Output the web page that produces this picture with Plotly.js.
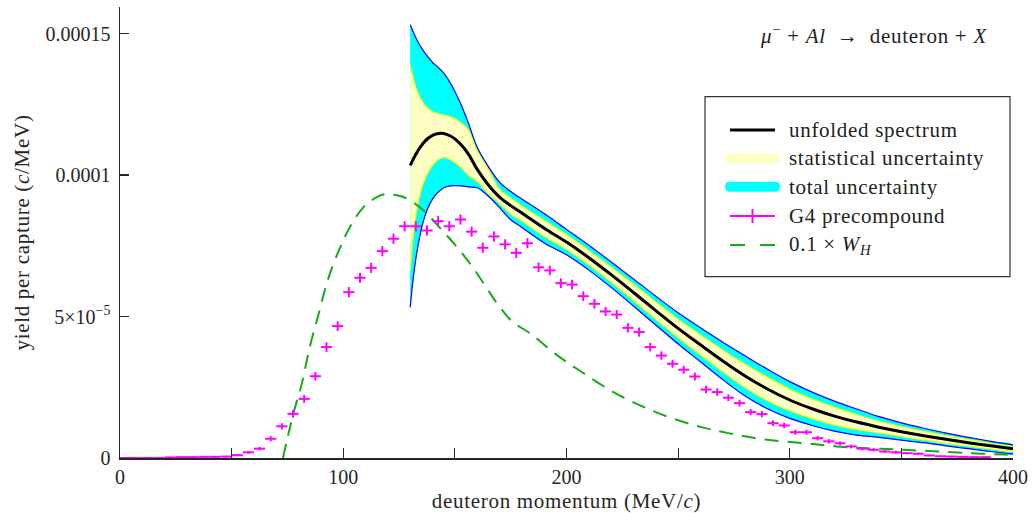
<!DOCTYPE html>
<html>
<head>
<meta charset="utf-8">
<script src="https://cdn.plot.ly/plotly-3.0.1.min.js"></script>
<style>
  html, body { margin: 0; padding: 0; background: #fff; }
  #chart { width: 1032px; height: 513px; }
  /* slightly looser tracking for the running text */
  #chart .annotation-text, #chart .xtitle, #chart .ytitle { letter-spacing: 0.7px; }
</style>
</head>
<body>
<div id="chart"></div>
<script>
// Yields are listed in units of 1e-4 per (MeV/c); momenta in MeV/c.
const YIELD_UNIT = 1e-4;

// Unfolded deuteron spectrum with its statistical and total uncertainty bands
const momentum = [130, 131, 132, 133, 134, 135, 136, 138, 140, 142, 145, 148, 150, 153, 156, 160, 165, 170, 175, 180,
                  190, 200, 210, 220, 230, 240, 250, 260, 270, 280, 290, 300, 310, 320, 330, 340, 350, 360, 370, 380, 390, 400];
const unfolded = [1.034, 1.050, 1.066, 1.080, 1.093, 1.104, 1.114, 1.130, 1.140, 1.146, 1.147, 1.138, 1.128, 1.105, 1.075, 1.020, 0.965, 0.922, 0.892, 0.866,
                  0.812, 0.763, 0.708, 0.648, 0.585, 0.521, 0.458, 0.400, 0.343, 0.290, 0.244, 0.205, 0.174, 0.148, 0.127, 0.109, 0.093, 0.079, 0.066, 0.054, 0.043, 0.033];
const statHigh = [1.387, 1.352, 1.322, 1.298, 1.280, 1.265, 1.252, 1.235, 1.224, 1.218, 1.212, 1.205, 1.199, 1.182, 1.160, 1.085, 1.020, 0.950, 0.918, 0.890,
                  0.840, 0.789, 0.733, 0.674, 0.613, 0.551, 0.490, 0.435, 0.381, 0.331, 0.285, 0.243, 0.208, 0.179, 0.153, 0.130, 0.111, 0.094, 0.079, 0.065, 0.051, 0.039];
const statLow  = [0.668, 0.760, 0.830, 0.880, 0.920, 0.950, 0.975, 1.010, 1.035, 1.052, 1.062, 1.055, 1.045, 1.025, 1.000, 0.978, 0.935, 0.900, 0.862, 0.838,
                  0.784, 0.737, 0.683, 0.622, 0.557, 0.491, 0.426, 0.365, 0.305, 0.249, 0.203, 0.167, 0.140, 0.117, 0.101, 0.089, 0.076, 0.064, 0.052, 0.042, 0.032, 0.023];
const totalHigh = [1.531, 1.512, 1.494, 1.478, 1.463, 1.450, 1.438, 1.417, 1.398, 1.384, 1.360, 1.325, 1.295, 1.245, 1.185, 1.098, 1.030, 0.975, 0.942, 0.915,
                   0.864, 0.808, 0.752, 0.693, 0.633, 0.572, 0.513, 0.460, 0.409, 0.361, 0.314, 0.270, 0.233, 0.201, 0.173, 0.146, 0.124, 0.105, 0.088, 0.073, 0.059, 0.046];
const totalLow  = [0.533, 0.612, 0.676, 0.728, 0.772, 0.810, 0.840, 0.885, 0.915, 0.935, 0.955, 0.962, 0.963, 0.962, 0.958, 0.955, 0.925, 0.885, 0.842, 0.815,
                   0.760, 0.718, 0.664, 0.603, 0.537, 0.470, 0.403, 0.340, 0.277, 0.219, 0.174, 0.140, 0.115, 0.095, 0.081, 0.073, 0.063, 0.054, 0.043, 0.033, 0.023, 0.014];

// Geant4 precompound model, 5 MeV/c bins
const g4Momentum = [2.5, 7.5, 12.5, 17.5, 22.5, 27.5, 32.5, 37.5, 42.5, 47.5, 52.5, 57.5, 62.5, 67.5, 72.5, 77.5, 82.5, 87.5, 92.5, 97.5,
                    102.5, 107.5, 112.5, 117.5, 122.5, 127.5, 132.5, 137.5, 142.5, 147.5, 152.5, 157.5, 162.5, 167.5, 172.5, 177.5, 182.5, 187.5, 192.5, 197.5,
                    202.5, 207.5, 212.5, 217.5, 222.5, 227.5, 232.5, 237.5, 242.5, 247.5, 252.5, 257.5, 262.5, 267.5, 272.5, 277.5, 282.5, 287.5, 292.5, 297.5,
                    302.5, 307.5, 312.5, 317.5, 322.5, 327.5, 332.5, 337.5, 342.5, 347.5, 352.5, 357.5, 362.5, 367.5, 372.5, 377.5, 382.5, 387.5];
const g4Yield = [0, 0, 0, 0, 0.002, 0.003, 0.003, 0.004, 0.004, 0.005, 0.010, 0.020, 0.033, 0.068, 0.112, 0.156, 0.209, 0.289, 0.392, 0.466,
                 0.586, 0.637, 0.672, 0.731, 0.775, 0.819, 0.819, 0.804, 0.837, 0.819, 0.843, 0.800, 0.743, 0.783, 0.755, 0.725, 0.759, 0.674, 0.663, 0.618,
                 0.613, 0.572, 0.545, 0.518, 0.507, 0.460, 0.445, 0.392, 0.362, 0.333, 0.312, 0.288, 0.242, 0.233, 0.213, 0.194, 0.162, 0.155, 0.123, 0.115,
                 0.091, 0.091, 0.070, 0.059, 0.052, 0.041, 0.033, 0.029, 0.023, 0.020, 0.017, 0.015, 0.009, 0.006, 0.005, 0.004, 0.003, 0.003];
const g4Error = [0, 0, 0, 0, 0.002, 0.002, 0.002, 0.002, 0.002, 0.003, 0.004, 0.005, 0.006, 0.009, 0.011, 0.013, 0.014, 0.015, 0.017, 0.017,
                 0.018, 0.018, 0.018, 0.018, 0.018, 0.018, 0.018, 0.018, 0.018, 0.018, 0.018, 0.018, 0.018, 0.018, 0.018, 0.018, 0.018, 0.017, 0.017, 0.017,
                 0.017, 0.017, 0.017, 0.016, 0.016, 0.016, 0.016, 0.015, 0.015, 0.014, 0.014, 0.014, 0.013, 0.013, 0.012, 0.012, 0.011, 0.011, 0.010, 0.010,
                 0.009, 0.009, 0.008, 0.008, 0.007, 0.007, 0.006, 0.006, 0.005, 0.005, 0.004, 0.004, 0.003, 0.003, 0.003, 0.002, 0.002, 0.002];
const g4BinHalfWidth = 2.5;

// 0.1 x W_H parametrisation
const whMomentum = [73, 75, 77.6, 81.4, 85, 89, 93, 98, 103, 109, 115, 119, 122, 126, 130, 136, 143, 151, 158, 164,
                    168, 172, 176, 184, 195, 207, 221, 233, 246, 260, 273, 289, 307, 321, 336, 351, 366, 381, 396, 400];
const whYield = [0, 0.070, 0.156, 0.262, 0.392, 0.510, 0.627, 0.733, 0.816, 0.886, 0.922, 0.933, 0.931, 0.925, 0.910, 0.875, 0.816, 0.745, 0.674, 0.604,
                 0.556, 0.515, 0.480, 0.439, 0.368, 0.303, 0.233, 0.186, 0.144, 0.110, 0.087, 0.065, 0.052, 0.041, 0.034, 0.029, 0.023, 0.017, 0.012, 0.011];

// Axis ticks
const yTickVals = [0, 5e-5, 1e-4, 1.5e-4];
const yTickText = ['0', '5\u00d710<sup>\u22125</sup>', '0.0001', '0.00015'];

// Legend entries and process label
const legendLabels = ['unfolded spectrum', 'statistical uncertainty', 'total uncertainty', 'G4 precompound', '0.1 \u00d7 <i>W</i><sub><i>H</i></sub>'];
const processLabel = '<i>\u03bc</i><sup>\u2212</sup> + <i>Al</i>\u2002\u2192\u2002deuteron + <i>X</i>';

const toYield = v => v * YIELD_UNIT;
const band = (hi, lo) => ({
  x: momentum.concat(momentum.slice().reverse()),
  y: hi.map(toYield).concat(lo.map(toYield).reverse())
});

const COL = {
  cyan: '#00ffff', blue: '#0000ff', yellowFill: '#ffffc4', yellowEdge: '#ffff00',
  magenta: '#ff00ff', green: '#17aa17', black: '#000000', axis: '#262626'
};

const totalBand = band(totalHigh, totalLow);
const statBand = band(statHigh, statLow);

const traces = [
  { x: totalBand.x, y: totalBand.y, type: 'scatter', mode: 'lines', fill: 'toself',
    fillcolor: COL.cyan, line: { width: 0, shape: 'spline' }, hoverinfo: 'skip' },
  { x: statBand.x, y: statBand.y, type: 'scatter', mode: 'lines', fill: 'toself',
    fillcolor: COL.yellowFill, line: { width: 0, shape: 'spline' }, hoverinfo: 'skip' },
  { x: momentum, y: statHigh.map(toYield), type: 'scatter', mode: 'lines', line: { color: COL.yellowEdge, width: 1.2, shape: 'spline' } },
  { x: momentum, y: statLow.map(toYield), type: 'scatter', mode: 'lines', line: { color: COL.yellowEdge, width: 1.2, shape: 'spline' } },
  { x: momentum, y: totalHigh.map(toYield), type: 'scatter', mode: 'lines', line: { color: COL.blue, width: 1.2, shape: 'spline' } },
  { x: momentum, y: totalLow.map(toYield), type: 'scatter', mode: 'lines', line: { color: COL.blue, width: 1.2, shape: 'spline' } },
  { x: whMomentum, y: whYield.map(toYield), type: 'scatter', mode: 'lines',
    line: { color: COL.green, width: 2, dash: '14px,9px', shape: 'spline' } },
  { x: g4Momentum, y: g4Yield.map(toYield), type: 'scatter', mode: 'markers',
    marker: { size: 1, color: COL.magenta },
    error_x: { type: 'constant', value: g4BinHalfWidth, color: COL.magenta, thickness: 2, width: 0 },
    error_y: { type: 'data', array: g4Error.map(toYield), color: COL.magenta, thickness: 2, width: 0 } },
  { x: momentum, y: unfolded.map(toYield), type: 'scatter', mode: 'lines',
    line: { color: COL.black, width: 3, shape: 'spline' } }
];

// Legend box drawn in paper coordinates (plot area is 893 x 451 px)
const PW = 893, PH = 451;
const box = { x0: 0.6551, x1: 0.9966, y0: 0.402, y1: 0.8011 };
const rowY = [0.7273, 0.6645, 0.6016, 0.5365, 0.4723];
const symX0 = 0.6831, symX1 = 0.7335, textX = 0.7469;

function roundedBar(x0, x1, y, color) {
  const rx = 5 / PW, ry = 5 / PH;
  const yt = y + ry, yb = y - ry;
  return {
    type: 'path', xref: 'paper', yref: 'paper', layer: 'above',
    path: `M ${x0},${yb} L ${x1},${yb} Q ${x1 + rx},${yb} ${x1 + rx},${y} Q ${x1 + rx},${yt} ${x1},${yt} ` +
          `L ${x0},${yt} Q ${x0 - rx},${yt} ${x0 - rx},${y} Q ${x0 - rx},${yb} ${x0},${yb} Z`,
    fillcolor: color, line: { width: 0 }
  };
}

const shapes = [
  { type: 'rect', xref: 'paper', yref: 'paper', layer: 'above', ...box,
    fillcolor: '#ffffff', line: { color: '#333333', width: 1.2 } },
  { type: 'line', xref: 'paper', yref: 'paper', layer: 'above', x0: symX0, x1: symX1, y0: rowY[0], y1: rowY[0],
    line: { color: COL.black, width: 3 } },
  roundedBar(symX0, symX1, rowY[1], COL.yellowFill),
  roundedBar(symX0, symX1, rowY[2], COL.cyan),
  { type: 'line', xref: 'paper', yref: 'paper', layer: 'above', x0: symX0, x1: symX1, y0: rowY[3], y1: rowY[3],
    line: { color: COL.magenta, width: 2 } },
  { type: 'line', xref: 'paper', yref: 'paper', layer: 'above', x0: (symX0 + symX1) / 2, x1: (symX0 + symX1) / 2,
    y0: rowY[3] - 7 / PH, y1: rowY[3] + 7 / PH, line: { color: COL.magenta, width: 2 } },
  { type: 'line', xref: 'paper', yref: 'paper', layer: 'above', x0: symX0, x1: symX0 + 15 / PW, y0: rowY[4], y1: rowY[4],
    line: { color: COL.green, width: 2 } },
  { type: 'line', xref: 'paper', yref: 'paper', layer: 'above', x0: symX1 - 15 / PW, x1: symX1, y0: rowY[4], y1: rowY[4],
    line: { color: COL.green, width: 2 } }
];

const FONT = '"Liberation Serif", "Times New Roman", serif';

const annotations = legendLabels.map((t, i) => ({
  xref: 'paper', yref: 'paper', x: textX, y: rowY[i], xanchor: 'left', yanchor: 'middle', align: 'left',
  text: t, showarrow: false, font: { family: FONT, size: 21, color: '#222222' }
}));
annotations.push({
  xref: 'paper', yref: 'paper', x: 0.7144, y: 0.938, xanchor: 'left', yanchor: 'middle', align: 'left',
  text: processLabel, showarrow: false, font: { family: FONT, size: 21, color: '#222222' }
});

const layout = {
  width: 1032, height: 513,
  margin: { l: 120, r: 19, t: 7, b: 55 },
  paper_bgcolor: '#ffffff', plot_bgcolor: '#ffffff',
  showlegend: false,
  font: { family: FONT, size: 20, color: COL.axis },
  xaxis: {
    range: [0, 400], tick0: 0, dtick: 100,
    ticks: 'inside', ticklen: 10, tickwidth: 1.2, tickcolor: COL.axis,
    minor: { tick0: 0, dtick: 50, ticks: 'inside', ticklen: 10, tickwidth: 1.2, tickcolor: COL.axis, showgrid: false },
    showline: true, linecolor: COL.axis, linewidth: 1.5, showgrid: false, zeroline: false,
    ticklabelstandoff: 0,
    tickfont: { family: FONT, size: 20, color: COL.axis },
    title: { text: 'deuteron momentum (MeV/<i>c</i>)', font: { family: FONT, size: 21, color: COL.axis }, standoff: 8 }
  },
  yaxis: {
    range: [0, 1.594e-4], tickmode: 'array', tickvals: yTickVals, ticktext: yTickText,
    ticks: 'inside', ticklen: 9, tickwidth: 1.2, tickcolor: COL.axis,
    showline: true, linecolor: COL.axis, linewidth: 1.5, showgrid: false, zeroline: false,
    ticklabelstandoff: 4,
    tickfont: { family: FONT, size: 20, color: COL.axis },
    title: { text: 'yield per capture (<i>c</i>/MeV)', font: { family: FONT, size: 21, color: COL.axis }, standoff: 10 }
  },
  shapes: shapes,
  annotations: annotations
};

Plotly.newPlot('chart', traces, layout, { staticPlot: true, displayModeBar: false });
</script>
</body>
</html>
